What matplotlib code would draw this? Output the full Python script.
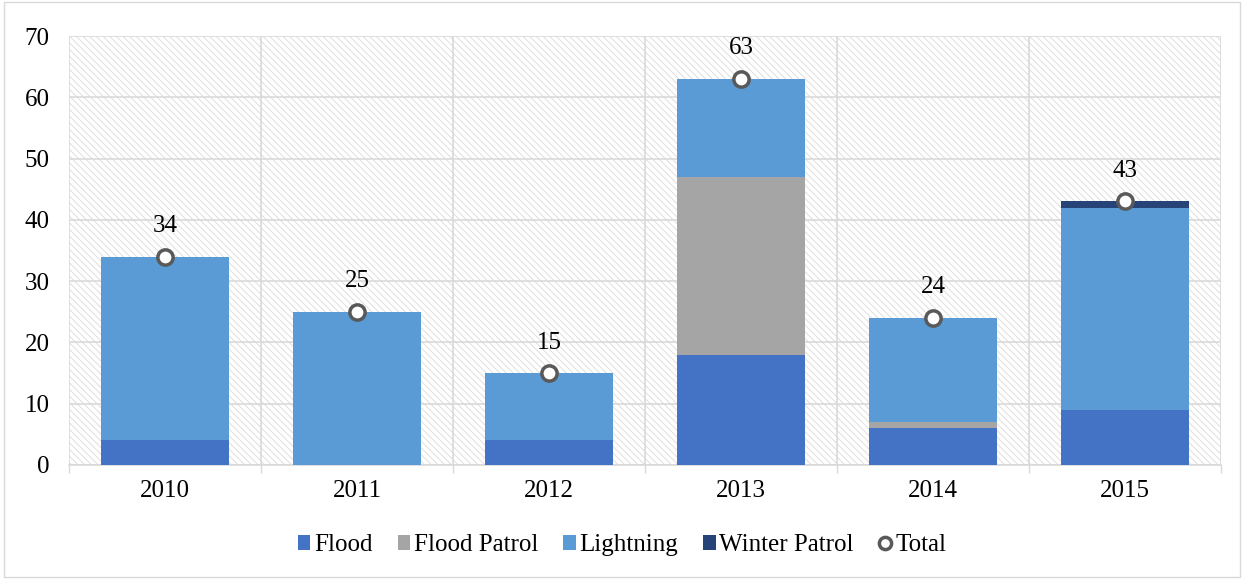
import matplotlib
matplotlib.use("Agg")
import matplotlib.pyplot as plt
import numpy as np
from matplotlib.patches import Rectangle

years = ["2010", "2011", "2012", "2013", "2014", "2015"]
flood = [4, 0, 4, 18, 6, 9]
flood_patrol = [0, 0, 0, 29, 1, 0]
lightning = [30, 25, 11, 16, 17, 33]
winter_patrol = [0, 0, 0, 0, 0, 1]
total = [34, 25, 15, 63, 24, 43]

plt.rcParams['font.family'] = ['Liberation Serif', 'DejaVu Serif']
plt.rcParams['hatch.linewidth'] = 0.6

fig = plt.figure(figsize=(12.44, 5.79), dpi=100)
ax = fig.add_axes([0.0555, 0.1969, 0.926, 0.7409])

# outer border
fig.patches.append(Rectangle((0.003, 0.003), 0.994, 0.994, transform=fig.transFigure,
                             fill=False, edgecolor='#d9d9d9', linewidth=1.0))

# hatched background
ax.add_patch(Rectangle((0, 0), 1, 1, transform=ax.transAxes, facecolor='white',
                       edgecolor='#d9d9d9', hatch='\\\\\\\\\\', linewidth=0, zorder=0))

x = np.arange(len(years))
w = 0.667
c_flood = '#4472c4'
c_fp = '#a5a5a5'
c_light = '#5b9bd5'
c_wp = '#264478'

b0 = np.zeros(len(years))
ax.bar(x, flood, w, bottom=b0, color=c_flood, label='Flood', zorder=3)
b0 = b0 + np.array(flood)
ax.bar(x, flood_patrol, w, bottom=b0, color=c_fp, label='Flood Patrol', zorder=3)
b0 = b0 + np.array(flood_patrol)
ax.bar(x, lightning, w, bottom=b0, color=c_light, label='Lightning', zorder=3)
b0 = b0 + np.array(lightning)
ax.bar(x, winter_patrol, w, bottom=b0, color=c_wp, label='Winter Patrol', zorder=3)

ax.plot(x, total, linestyle='none', marker='o', markersize=11, markerfacecolor='white',
        markeredgecolor='#595959', markeredgewidth=2.5, label='Total', zorder=5)
for xi, t in zip(x, total):
    ax.annotate(str(t), (xi, t), xytext=(0, 14), textcoords='offset points',
                ha='center', va='bottom', fontsize=18, color='#000000', zorder=6)

ax.set_xlim(-0.5, len(years) - 0.5)
ax.set_ylim(0, 70)
ax.set_yticks(np.arange(0, 71, 10))
ax.set_xticks(x)
ax.set_xticklabels(years)
ax.set_xticks(np.arange(-0.5, len(years), 1), minor=True)
ax.tick_params(axis='x', which='major', length=0, labelsize=18, pad=11)
ax.tick_params(axis='x', which='minor', length=6, color='#d9d9d9', width=1)
ax.tick_params(axis='y', length=0, labelsize=18, pad=14)
ax.grid(axis='y', color='#d9d9d9', linewidth=1.2, zorder=1)
ax.grid(axis='x', which='minor', color='#d9d9d9', linewidth=1.2, zorder=1)
ax.set_axisbelow(True)
for s in ['top', 'right', 'left']:
    ax.spines[s].set_visible(False)
ax.spines['bottom'].set_color('#d9d9d9')
ax.spines['bottom'].set_linewidth(1.2)

handles, labels = ax.get_legend_handles_labels()
order = [labels.index(l) for l in ['Flood', 'Flood Patrol', 'Lightning', 'Winter Patrol', 'Total']]
handles = [handles[i] for i in order]
labels = [labels[i] for i in order]
leg = fig.legend(handles, labels, loc='center', bbox_to_anchor=(0.5, 0.058), ncol=5,
                 frameon=False, fontsize=18, handlelength=0.5, handleheight=0.5,
                 handletextpad=0.15, columnspacing=1.0, markerscale=0.8)

fig.savefig('out.png', dpi=100)
